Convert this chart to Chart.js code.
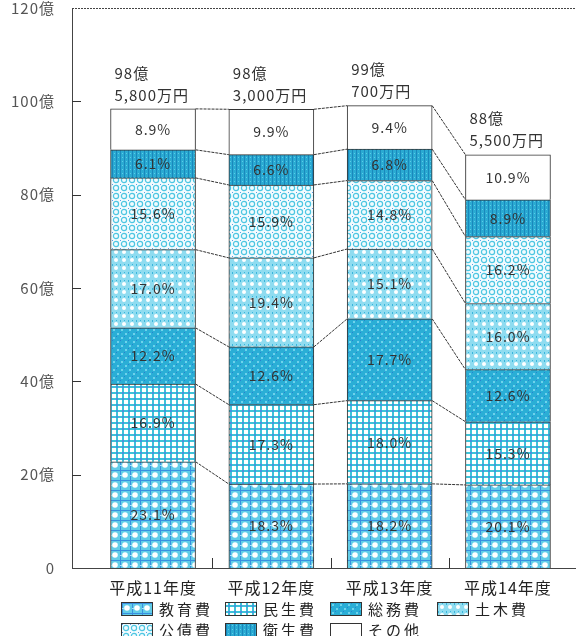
<!DOCTYPE html>
<html>
<head>
<meta charset="utf-8">
<script src="https://cdn.jsdelivr.net/npm/chart.js@4.4.1/dist/chart.umd.min.js"></script>
<style>
	html, body { margin: 0; padding: 0; background: #fff; }
	#wrap { position: relative; width: 576px; height: 636px; overflow: hidden; }
	#chart { position: absolute; left: 0; top: 0; }
	.item { position: absolute; height: 18px; font: 15px "Noto Sans CJK JP", sans-serif; color: #222; letter-spacing: 3px; line-height: 18px; white-space: nowrap; }
	.swatch { display: inline-block; width: 30px; height: 12px; border: 1px solid #333; vertical-align: -1px; margin-right: 6px; background-repeat: repeat; }
</style>
</head>
<body>
<div id="wrap">
	<canvas id="chart" width="576" height="636"></canvas>
	<div id="legend"></div>
</div>
<script>
const categories = ['平成11年度', '平成12年度', '平成13年度', '平成14年度'];
const totals = [98.58, 98.30, 99.07, 88.55];
const totalOku = ['98億', '98億', '99億', '88億'];
const totalMan = ['5,800万円', '3,000万円', '700万円', '5,500万円'];
const seriesNames = ['教育費', '民生費', '総務費', '土木費', '公債費', '衛生費', 'その他'];

// percent of each year's total, bottom to top
const kyoiku = [23.1, 18.3, 18.2, 20.1];
const minsei = [16.9, 17.3, 18.0, 15.3];
const somu = [12.2, 12.6, 17.7, 12.6];
const doboku = [17.0, 19.4, 15.1, 16.0];
const kosai = [15.6, 15.9, 14.8, 16.2];
const eisei = [6.1, 6.6, 6.8, 8.9];
const sonota = [8.9, 9.9, 9.4, 10.9];
const percents = [kyoiku, minsei, somu, doboku, kosai, eisei, sonota];

const yTicks = [0, 20, 40, 60, 80, 100, 120];

function makeTile(size, draw) {
	const c = document.createElement('canvas');
	c.width = size;
	c.height = size;
	draw(c.getContext('2d'), size);
	return c;
}

const tiles = [
	makeTile(10, function (g, s) {
		g.fillStyle = '#62cde8'; g.fillRect(0, 0, s, s);
		g.fillStyle = '#3a8fe0'; g.fillRect(0, 0, s, 1); g.fillRect(0, 0, 1, s);
		g.fillStyle = '#ffffff'; g.beginPath(); g.arc(5, 5, 2.8, 0, Math.PI * 2); g.fill();
		g.fillStyle = '#a8e6f6'; g.fillRect(0, 5, 2, 1);
	}),
	makeTile(6, function (g, s) {
		g.fillStyle = '#ffffff'; g.fillRect(0, 0, s, s);
		g.fillStyle = '#3cc4d8'; g.fillRect(0, 2, s, 2); g.fillRect(2, 0, 2, s);
		g.fillStyle = '#4a8fe0'; g.fillRect(2, 2, 2, 2);
	}),
	makeTile(8, function (g, s) {
		g.fillStyle = '#2aaed6'; g.fillRect(0, 0, s, s);
		g.fillStyle = '#6fd2ec'; g.fillRect(1, 1, 2, 2); g.fillRect(5, 5, 2, 2);
		g.fillStyle = '#2a7fd0'; g.fillRect(4, 0, 1, 1); g.fillRect(0, 4, 1, 1);
	}),
	makeTile(8, function (g, s) {
		g.fillStyle = '#8fdcf0'; g.fillRect(0, 0, s, s);
		g.fillStyle = '#ffffff'; g.beginPath(); g.arc(4, 4, 2, 0, Math.PI * 2); g.fill();
		g.fillStyle = '#3ab6dc'; g.fillRect(0, 0, 1, 2); g.fillRect(4, 0, 1, 1);
	}),
	makeTile(8, function (g, s) {
		g.fillStyle = '#f2fbfe'; g.fillRect(0, 0, s, s);
		g.strokeStyle = '#4cc6e2'; g.lineWidth = 1.2;
		g.beginPath(); g.arc(4, 4, 2.6, 0, Math.PI * 2); g.stroke();
		g.fillStyle = '#5a9fe6'; g.fillRect(0, 0, 1, 1);
	}),
	makeTile(4, function (g, s) {
		g.fillStyle = '#2aaad2'; g.fillRect(0, 0, s, s);
		g.fillStyle = '#1a88bc'; g.fillRect(0, 0, 1, s);
		g.fillStyle = '#5ccbe8'; g.fillRect(2, 1, 1, 1);
	}),
	makeTile(4, function (g, s) {
		g.fillStyle = '#ffffff'; g.fillRect(0, 0, s, s);
	})
];

const ctx = document.getElementById('chart').getContext('2d');
const patterns = tiles.map(function (t) { return ctx.createPattern(t, 'repeat'); });

const datasets = seriesNames.map(function (name, s) {
	return {
		label: name,
		data: categories.map(function (c, i) {
			return { x: i, y: totals[i] * percents[s][i] / 100 };
		}),
		backgroundColor: patterns[s],
		borderColor: '#333',
		borderWidth: 1,
		barThickness: 85
	};
});

const fontFamily = '"Noto Sans CJK JP", sans-serif';

const decorate = {
	id: 'decorate',
	beforeDraw(chart) {
		chart.ctx.letterSpacing = '1px';
	},
	afterDatasetsDraw(chart) {
		const g = chart.ctx;
		const x = chart.scales.x;
		const y = chart.scales.y;
		const area = chart.chartArea;
		g.save();

		// frame top line
		g.strokeStyle = '#444';
		g.lineWidth = 1;
		g.setLineDash([2, 1]);
		g.beginPath();
		g.moveTo(area.left, Math.round(y.getPixelForValue(120)) + 0.5);
		g.lineTo(area.right, Math.round(y.getPixelForValue(120)) + 0.5);
		g.stroke();

		// inner y ticks
		g.setLineDash([]);
		g.strokeStyle = '#333';
		yTicks.slice(1, -1).forEach(function (v) {
			const py = Math.round(y.getPixelForValue(v)) + 0.5;
			g.beginPath();
			g.moveTo(area.left, py);
			g.lineTo(area.left + 9, py);
			g.stroke();
		});

		// separators between categories
		for (let i = 0; i < categories.length - 1; i++) {
			const px = Math.round(x.getPixelForValue(i + 0.5)) + 0.5;
			g.beginPath();
			g.moveTo(px, area.bottom);
			g.lineTo(px, area.bottom - 10);
			g.stroke();
		}

		// connector lines between bars
		g.setLineDash([3, 1]);
		for (let s = 0; s < seriesNames.length; s++) {
			const meta = chart.getDatasetMeta(s);
			for (let i = 0; i < categories.length - 1; i++) {
				const a = meta.data[i];
				const b = meta.data[i + 1];
				g.beginPath();
				g.moveTo(a.x + a.width / 2, a.y);
				g.lineTo(b.x - b.width / 2, b.y);
				g.stroke();
			}
		}
		g.setLineDash([]);

		// percent labels
		g.fillStyle = '#333';
		g.font = '14px ' + fontFamily;
		g.letterSpacing = '1px';
		g.textAlign = 'center';
		g.textBaseline = 'middle';
		for (let s = 0; s < seriesNames.length; s++) {
			const meta = chart.getDatasetMeta(s);
			meta.data.forEach(function (bar, i) {
				g.fillText(percents[s][i].toFixed(1) + '%', bar.x, (bar.y + bar.base) / 2);
			});
		}

		// totals above bars
		const topMeta = chart.getDatasetMeta(seriesNames.length - 1);
		g.textAlign = 'left';
		g.font = '15px ' + fontFamily;
		topMeta.data.forEach(function (bar, i) {
			const left = bar.x - bar.width / 2 + 4;
			g.fillText(totalOku[i], left, bar.y - 36);
			g.fillText(totalMan[i], left, bar.y - 14);
		});
		g.restore();
	},
	afterDraw(chart) {
		chart.ctx.letterSpacing = '0px';
	}
};

new Chart(ctx, {
	type: 'bar',
	data: { datasets: datasets },
	plugins: [decorate],
	options: {
		responsive: false,
		animation: false,
		layout: { padding: { top: 8, right: 0, left: 0, bottom: 0 } },
		plugins: {
			legend: { display: false },
			tooltip: { enabled: false }
		},
		scales: {
			x: {
				type: 'linear',
				stacked: true,
				offset: false,
				min: -0.685,
				max: 3.575,
				afterBuildTicks: function (scale) {
					scale.ticks = categories.map(function (c, i) { return { value: i }; });
				},
				afterFit: function (scale) {
					scale.height = 68;
					scale.paddingLeft = 0;
					scale.paddingRight = 0;
				},
				grid: { display: false, offset: false },
				border: { color: '#444', dash: [2, 1], width: 1 },
				ticks: {
					autoSkip: false,
					maxRotation: 0,
					padding: 2,
					color: '#222',
					font: { family: fontFamily, size: 16 },
					callback: function (v) { return categories[v]; }
				}
			},
			y: {
				stacked: true,
				min: 0,
				max: 120,
				afterBuildTicks: function (scale) {
					scale.ticks = yTicks.map(function (v) { return { value: v }; });
				},
				afterFit: function (scale) {
					scale.width = 72;
					scale.paddingTop = 0;
					scale.paddingBottom = 0;
				},
				grid: { display: false },
				border: { color: '#444', dash: [2, 1], width: 1 },
				ticks: {
					padding: 9,
					color: '#555',
					font: { family: fontFamily, size: 15 },
					callback: function (v) { return v === 0 ? '0' : v + '億'; }
				}
			}
		}
	}
});

// legend laid out in columns like the original
const legend = document.getElementById('legend');
const colX = [121, 225, 330, 437];
seriesNames.forEach(function (name, s) {
	const item = document.createElement('div');
	item.className = 'item';
	item.style.left = colX[s % 4] + 'px';
	item.style.top = (s < 4 ? 600 : 621) + 'px';
	const sw = document.createElement('span');
	sw.className = 'swatch';
	sw.style.backgroundImage = 'url(' + tiles[s].toDataURL() + ')';
	item.appendChild(sw);
	item.appendChild(document.createTextNode(name));
	legend.appendChild(item);
});
</script>
</body>
</html>
